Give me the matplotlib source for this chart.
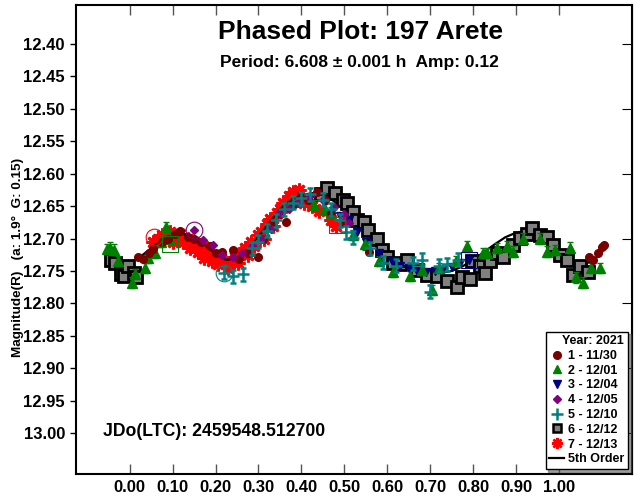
import matplotlib
matplotlib.use("Agg")
import matplotlib.pyplot as plt
from matplotlib.lines import Line2D

plt.rcParams['font.family'] = ['Liberation Sans', 'DejaVu Sans']
plt.rcParams['font.weight'] = 'bold'

# Sesión 1 - 11/30 (círculos rojo oscuro)
fase1 = [0.020, 0.030, 0.045, 0.055, 0.075, 0.090, 0.105, 0.118, 0.135, 0.150,
         0.167, 0.186, 0.200, 0.214, 0.240, 0.255, 0.275, 0.298, 0.310, 0.330,
         0.350, 0.365, 0.380, 0.400, 0.415, 0.437, 0.455, 0.470, 0.500, 0.558,
         1.070, 1.080, 1.090, 1.100, 1.105]
mag1 = [12.728, 12.732, 12.722, 12.716, 12.705, 12.700, 12.693, 12.688, 12.697, 12.700,
        12.705, 12.712, 12.722, 12.720, 12.718, 12.732, 12.722, 12.728, 12.700, 12.678,
        12.662, 12.674, 12.648, 12.633, 12.640, 12.628, 12.640, 12.660, 12.675, 12.720,
        12.728, 12.733, 12.722, 12.713, 12.710]

# Sesión 2 - 12/01 (triángulos verdes)
fase2 = [-0.052, -0.045, -0.036, -0.028, 0.005, 0.012, 0.035, 0.042, 0.060, 0.072,
         0.084, 0.095, 0.430, 0.455, 0.470, 0.520, 0.549, 0.580, 0.614, 0.653,
         0.680, 0.705, 0.720, 0.760, 0.785, 0.823, 0.833, 0.856, 0.880, 0.893,
         0.915, 0.956, 0.972, 0.990, 1.026, 1.040, 1.056, 1.075, 1.095]
mag2 = [12.716, 12.714, 12.717, 12.735, 12.768, 12.755, 12.745, 12.730, 12.722, 12.705,
        12.682, 12.700, 12.648, 12.655, 12.660, 12.695, 12.709, 12.735, 12.752, 12.758,
        12.748, 12.779, 12.745, 12.735, 12.712, 12.722, 12.722, 12.715, 12.712, 12.720,
        12.700, 12.700, 12.720, 12.718, 12.714, 12.760, 12.768, 12.745, 12.745]
err2 = 0.008

# Sesión 3 - 12/04 (triángulos azul marino)
fase3 = [0.49, 0.51, 0.53, 0.55, 0.58, 0.61, 0.63, 0.65, 0.67, 0.69, 0.71, 0.73, 0.75, 0.77, 0.79]
mag3 = [12.665, 12.672, 12.690, 12.705, 12.722, 12.735, 12.742, 12.745, 12.750, 12.752,
        12.750, 12.748, 12.744, 12.738, 12.733]

# Sesión 4 - 12/05 (rombos morados)
fase4 = [0.149, 0.170, 0.193, 0.215, 0.240, 0.262, 0.285, 0.305, 0.330, 0.350,
         0.372, 0.392, 0.420, 0.450, 0.475, 0.500, 0.512]
mag4 = [12.687, 12.703, 12.710, 12.725, 12.728, 12.722, 12.712, 12.700, 12.686, 12.660,
        12.655, 12.646, 12.635, 12.640, 12.652, 12.662, 12.676]

# Sesión 5 - 12/10 (cruces turquesa)
fase5 = [0.219, 0.240, 0.265, 0.285, 0.300, 0.320, 0.340, 0.360, 0.380, 0.400,
         0.420, 0.450, 0.470, 0.490, 0.505, 0.520, 0.560, 0.590, 0.620, 0.660,
         0.681, 0.700, 0.720, 0.740, 0.765]
mag5 = [12.753, 12.758, 12.755, 12.715, 12.705, 12.688, 12.672, 12.655, 12.645, 12.638,
        12.632, 12.640, 12.655, 12.672, 12.690, 12.699, 12.715, 12.737, 12.742, 12.738,
        12.733, 12.782, 12.742, 12.740, 12.733]
err5 = 0.010

# Sesión 6 - 12/12 (cuadrados grises)
fase6 = [-0.044, -0.035, -0.021, -0.014, -0.005, 0.009, 0.015, 0.445, 0.460, 0.479,
         0.498, 0.507, 0.521, 0.530, 0.545, 0.556, 0.577, 0.588, 0.600, 0.614,
         0.630, 0.646, 0.670, 0.692, 0.716, 0.740, 0.763, 0.775, 0.793, 0.797,
         0.815, 0.828, 0.840, 0.855, 0.870, 0.893, 0.910, 0.925, 0.937, 0.956,
         0.972, 0.986, 1.002, 1.019, 1.033, 1.049, 1.067]
mag6 = [12.733, 12.738, 12.755, 12.758, 12.743, 12.753, 12.760, 12.632, 12.622, 12.630,
        12.640, 12.645, 12.659, 12.671, 12.675, 12.687, 12.700, 12.717, 12.728, 12.737,
        12.740, 12.733, 12.748, 12.756, 12.758, 12.766, 12.775, 12.760, 12.763, 12.735,
        12.742, 12.753, 12.735, 12.722, 12.728, 12.710, 12.699, 12.693, 12.684, 12.694,
        12.697, 12.710, 12.725, 12.733, 12.756, 12.743, 12.752]

# Sesión 7 - 12/13 (estrellas rojas)
fase7 = [0.055, 0.065, 0.075, 0.085, 0.095, 0.100, 0.110, 0.118, 0.125, 0.135,
         0.140, 0.150, 0.160, 0.165, 0.172, 0.180, 0.185, 0.192, 0.200, 0.205,
         0.212, 0.220, 0.228, 0.235, 0.245, 0.252, 0.260, 0.268, 0.275, 0.282,
         0.290, 0.298, 0.305, 0.312, 0.320, 0.328, 0.335, 0.342, 0.350, 0.358,
         0.365, 0.372, 0.380, 0.388, 0.395, 0.405, 0.415, 0.425, 0.440, 0.470, 0.480]
mag7 = [12.705, 12.700, 12.695, 12.698, 12.690, 12.705, 12.700, 12.693, 12.705, 12.700,
        12.715, 12.705, 12.720, 12.710, 12.730, 12.715, 12.725, 12.735, 12.728, 12.740,
        12.730, 12.738, 12.745, 12.735, 12.728, 12.738, 12.722, 12.715, 12.725, 12.705,
        12.712, 12.695, 12.690, 12.700, 12.678, 12.670, 12.680, 12.660, 12.655, 12.645,
        12.650, 12.635, 12.628, 12.640, 12.625, 12.645, 12.640, 12.650, 12.658, 12.672, 12.680]

# Ajuste de Fourier de 5º orden
fase_fit = [-0.055, -0.03, 0.0, 0.025, 0.05, 0.075, 0.10, 0.125, 0.15, 0.175,
            0.20, 0.225, 0.25, 0.275, 0.30, 0.325, 0.35, 0.375, 0.40, 0.425,
            0.45, 0.475, 0.50, 0.525, 0.55, 0.575, 0.60, 0.625, 0.65, 0.675,
            0.70, 0.725, 0.75, 0.775, 0.80, 0.825, 0.85, 0.875, 0.90, 0.925,
            0.95, 0.975, 1.00, 1.025, 1.05, 1.075, 1.10]
mag_fit = [12.738, 12.742, 12.738, 12.728, 12.715, 12.703, 12.695, 12.693, 12.698, 12.710,
           12.724, 12.733, 12.730, 12.717, 12.697, 12.675, 12.655, 12.641, 12.633, 12.630,
           12.633, 12.642, 12.655, 12.672, 12.690, 12.707, 12.722, 12.735, 12.744, 12.750,
           12.753, 12.753, 12.750, 12.743, 12.733, 12.721, 12.709, 12.698, 12.691, 12.688,
           12.692, 12.703, 12.718, 12.732, 12.740, 12.736, 12.722]

# Puntos marcados (primer punto de algunas sesiones)
fase_hl = [0.056, 0.095, 0.149, 0.219, 0.484, 0.790]
mag_hl = [12.697, 12.709, 12.687, 12.753, 12.679, 12.733]
color_hl = ['#ff0000', '#008000', '#800080', '#008080', '#ff0000', '#000080']
marca_hl = ['o', 's', 'o', 'o', 's', 's']

etiquetas = ['1 - 11/30', '2 - 12/01', '3 - 12/04', '4 - 12/05', '5 - 12/10', '6 - 12/12', '7 - 12/13']

fig = plt.figure(figsize=(6.41, 4.96), dpi=100)
ax = fig.add_axes([76 / 641, 1 - 474 / 496, (632 - 76) / 641, (474 - 5) / 496])

ax.plot(fase7, mag7, ls='none', marker=(8, 2, 0), ms=10, mew=2.0, color='#ff0000', zorder=2)
ax.plot(fase_fit, mag_fit, color='black', lw=1.6, zorder=3)
ax.plot(fase6, mag6, ls='none', marker='s', ms=8, mfc='#808080', mec='black', mew=2.0, zorder=4)
ax.errorbar(fase2, mag2, yerr=err2, fmt='^', ms=6.5, color='#008000', mec='#008000',
            elinewidth=0.8, capsize=2, zorder=5)
ax.plot(fase1, mag1, ls='none', marker='o', ms=5.5, color='#7a0000', zorder=6)
ax.plot(fase3, mag3, ls='none', marker='v', ms=5.5, color='#000080', zorder=5)
ax.plot(fase4, mag4, ls='none', marker='D', ms=4.5, color='#800080', zorder=6)
ax.errorbar(fase5, mag5, yerr=err5, fmt='+', ms=8, mew=1.8, color='#008080',
            elinewidth=0.8, capsize=2, zorder=6)
for p, m, c, mk in zip(fase_hl, mag_hl, color_hl, marca_hl):
    ax.plot(p, m, ls='none', marker=mk, ms=12, mfc='none', mec=c, mew=0.8, zorder=7)

ax.set_xlim(-0.125, 1.17)
ax.set_ylim(13.063, 12.34)
ax.set_xticks([0.0, 0.1, 0.2, 0.3, 0.4, 0.5, 0.6, 0.7, 0.8, 0.9, 1.0])
ax.set_xticklabels(['0.00', '0.10', '0.20', '0.30', '0.40', '0.50', '0.60', '0.70', '0.80', '0.90', '1.00'])
yt = [12.40, 12.45, 12.50, 12.55, 12.60, 12.65, 12.70, 12.75, 12.80, 12.85, 12.90, 12.95, 13.00]
ax.set_yticks(yt)
ax.set_yticklabels([f"{v:.2f}" for v in yt])
ax.tick_params(axis='x', direction='in', top=True, length=7, width=1, color='#555555',
               labelsize=12, pad=4)
ax.tick_params(axis='y', direction='out', length=4, width=1, labelsize=12, pad=4)
ax.secondary_yaxis('right').tick_params(direction='in', length=7, labelright=False)
for sp in ax.spines.values():
    sp.set_linewidth(1.5)

# Textos
fig.text(360 / 641, 1 - 32 / 496, 'Phased Plot: 197 Arete', ha='center', va='center',
         fontsize=19, fontweight='bold')
fig.text(359 / 641, 1 - 62 / 496, 'Period: 6.608 \u00b1 0.001 h  Amp: 0.12', ha='center', va='center',
         fontsize=12.5, fontweight='bold')
fig.text(18 / 641, 1 - 257 / 496, 'Magnitude(R)   (a: 1.9\u00b0  G: 0.15)', rotation=90,
         ha='center', va='center', fontsize=9.7, fontweight='bold')
fig.text(103 / 641, 1 - 432 / 496, 'JDo(LTC): 2459548.512700', ha='left', va='center',
         fontsize=12.7, fontweight='bold')

# Leyenda
manijas = [
    Line2D([], [], ls='none', marker='o', ms=5.5, color='#7a0000'),
    Line2D([], [], ls='none', marker='^', ms=6, color='#008000'),
    Line2D([], [], ls='none', marker='v', ms=6, color='#000080'),
    Line2D([], [], ls='none', marker='D', ms=4.5, color='#800080'),
    Line2D([], [], ls='none', marker='+', ms=8, mew=1.8, color='#008080'),
    Line2D([], [], ls='none', marker='s', ms=6, mfc='#808080', mec='black', mew=1.8),
    Line2D([], [], ls='none', marker=(8, 2, 0), ms=8, mew=1.8, color='#ff0000'),
    Line2D([], [], color='black', lw=1.6),
]
leg = ax.legend(manijas, etiquetas + ['5th Order'], title='Year: 2021', loc='lower right',
                bbox_to_anchor=(628 / 641, 1 - 469 / 496), bbox_transform=fig.transFigure,
                prop={'size': 9, 'weight': 'bold'}, title_fontproperties={'size': 9, 'weight': 'bold'},
                fancybox=False, edgecolor='black', framealpha=1, shadow=True,
                handlelength=1.2, handletextpad=0.3, labelspacing=0.22, borderpad=0.3,
                borderaxespad=0)
leg.get_frame().set_linewidth(1.0)
leg._legend_box.align = 'right'

fig.savefig('out.png', dpi=100)
